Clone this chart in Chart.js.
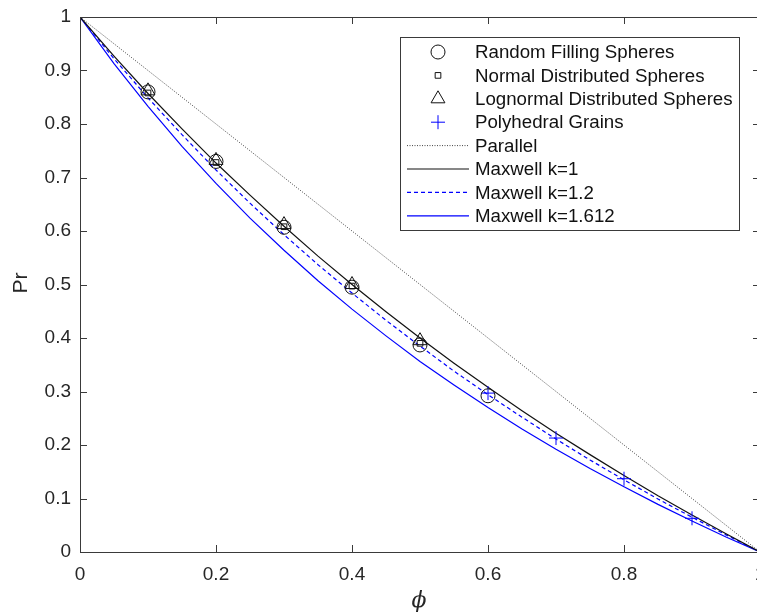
<!DOCTYPE html>
<html>
<head>
<meta charset="utf-8">
<script src="https://cdn.jsdelivr.net/npm/chart.js@4/dist/chart.umd.min.js"></script>
<style>
  html, body { margin: 0; padding: 0; overflow: hidden; background: #fff; }
  canvas { display: block; }
</style>
</head>
<body>
<canvas id="myChart" width="770" height="613"></canvas>
<script>
// Values
const phi = [0, 0.05, 0.1, 0.15, 0.2, 0.25, 0.3, 0.35, 0.4, 0.45, 0.5,
             0.55, 0.6, 0.65, 0.7, 0.75, 0.8, 0.85, 0.9, 0.95, 1];
const maxwell1 = [1, 0.927, 0.857, 0.791, 0.727, 0.667, 0.609, 0.553, 0.5, 0.449, 0.4,
                  0.353, 0.308, 0.264, 0.222, 0.182, 0.143, 0.105, 0.069, 0.034, 0];
const maxwell12 = [1, 0.922, 0.849, 0.78, 0.714, 0.652, 0.593, 0.537, 0.484, 0.433, 0.385,
                   0.338, 0.294, 0.252, 0.211, 0.172, 0.135, 0.099, 0.065, 0.032, 0];
const maxwell1612 = [1, 0.913, 0.833, 0.758, 0.689, 0.624, 0.564, 0.507, 0.454, 0.404, 0.356,
                     0.312, 0.27, 0.23, 0.192, 0.156, 0.122, 0.089, 0.058, 0.028, 0];
const parallelX = [0, 1];
const parallelY = [1, 0];

const randomX = [0.1, 0.2, 0.3, 0.4, 0.5, 0.6];
const randomY = [0.86, 0.73, 0.607, 0.495, 0.387, 0.292];
const normalX = [0.1, 0.2, 0.3, 0.4, 0.5];
const normalY = [0.858, 0.728, 0.608, 0.497, 0.39];
const lognormX = [0.1, 0.2, 0.3, 0.4, 0.5];
const lognormY = [0.862, 0.732, 0.612, 0.5, 0.395];
const polyX = [0.6, 0.7, 0.8, 0.9];
const polyY = [0.297, 0.213, 0.137, 0.063];

const xTicks = [0, 0.2, 0.4, 0.6, 0.8, 1];
const yTicks = [0, 0.1, 0.2, 0.3, 0.4, 0.5, 0.6, 0.7, 0.8, 0.9, 1];

const AXIS = '#3a3a3a';
const FONT = '"Liberation Sans", Arial, Helvetica, sans-serif';
const CLEAR = 'rgba(0,0,0,0)';

const pts = (xs, ys) => xs.map((x, i) => ({ x: x, y: ys[i] }));

const markerSet = (label, xs, ys, style, color, r) => ({
  label: label, data: pts(xs, ys), showLine: false,
  pointStyle: style, pointRadius: r, pointHoverRadius: r,
  pointBorderColor: color, pointBackgroundColor: CLEAR, pointBorderWidth: 1,
  legendKind: 'marker'
});
const lineSet = (label, xs, ys, color, dash, width) => ({
  label: label, data: pts(xs, ys), showLine: true, pointRadius: 0,
  borderColor: color, borderWidth: width, borderDash: dash, fill: false,
  legendKind: 'line'
});

const datasets = [
  markerSet('Random Filling Spheres', randomX, randomY, 'circle', '#111', 7),
  markerSet('Normal Distributed Spheres', normalX, normalY, 'rect', '#111', 4),
  markerSet('Lognormal Distributed Spheres', lognormX, lognormY, 'triangle', '#111', 8),
  markerSet('Polyhedral Grains', polyX, polyY, 'cross', '#0000ff', 7),
  lineSet('Parallel', parallelX, parallelY, '#444', [1, 1.5], 1),
  lineSet('Maxwell k=1', phi, maxwell1, '#111', [], 1.2),
  lineSet('Maxwell k=1.2', phi, maxwell12, '#0000ff', [4, 3], 1.2),
  lineSet('Maxwell k=1.612', phi, maxwell1612, '#0000ff', [], 1.2)
];

// Рамка, вътрешни чертички, заглавия на осите и легенда
const frame = {
  id: 'frame',
  afterDraw(chart) {
    const ctx = chart.ctx;
    const a = chart.chartArea;
    const xs = chart.scales.x, ys = chart.scales.y;
    ctx.save();
    ctx.strokeStyle = AXIS;
    ctx.lineWidth = 1;
    ctx.strokeRect(a.left + 0.5, a.top + 0.5, a.right - a.left, a.bottom - a.top);
    ctx.beginPath();
    xTicks.forEach(v => {
      const p = Math.round(xs.getPixelForValue(v)) + 0.5;
      ctx.moveTo(p, a.bottom); ctx.lineTo(p, a.bottom - 7);
      ctx.moveTo(p, a.top); ctx.lineTo(p, a.top + 7);
    });
    yTicks.forEach(v => {
      const p = Math.round(ys.getPixelForValue(v)) + 0.5;
      ctx.moveTo(a.left, p); ctx.lineTo(a.left + 7, p);
      ctx.moveTo(a.right, p); ctx.lineTo(a.right - 7, p);
    });
    ctx.stroke();

    // axis titles
    ctx.fillStyle = '#262626';
    ctx.textAlign = 'center';
    ctx.textBaseline = 'middle';
    ctx.font = 'italic 22px "DejaVu Serif", "Liberation Serif", serif';
    ctx.fillText('\u03d5', 419, 601);
    ctx.save();
    ctx.translate(21, 283);
    ctx.rotate(-Math.PI / 2);
    ctx.font = '21px ' + FONT;
    ctx.fillText('Pr', 0, 0);
    ctx.restore();

    // legend
    const lx = 400, ly = 37, lw = 339, lh = 193, row = 23.4;
    ctx.fillStyle = '#fff';
    ctx.fillRect(lx, ly, lw, lh);
    ctx.strokeStyle = AXIS;
    ctx.strokeRect(lx + 0.5, ly + 0.5, lw, lh);
    chart.data.datasets.forEach((ds, i) => {
      const cy = 52 + i * row;
      if (ds.legendKind === 'marker') {
        ctx.fillStyle = CLEAR;
        ctx.strokeStyle = ds.pointBorderColor;
        ctx.lineWidth = 1;
        Chart.helpers.drawPoint(ctx, {
          pointStyle: ds.pointStyle, radius: ds.pointRadius, rotation: 0,
          borderWidth: 1
        }, 438, cy);
      } else {
        ctx.strokeStyle = ds.borderColor;
        ctx.lineWidth = ds.borderWidth;
        ctx.setLineDash(ds.borderDash);
        ctx.beginPath();
        ctx.moveTo(407, cy); ctx.lineTo(469, cy);
        ctx.stroke();
        ctx.setLineDash([]);
      }
      ctx.fillStyle = '#111';
      ctx.textAlign = 'left';
      ctx.font = '18.7px ' + FONT;
      ctx.fillText(ds.label, 475, cy + 1);
    });
    ctx.restore();
  }
};

new Chart(document.getElementById('myChart'), {
  type: 'scatter',
  data: { datasets: datasets },
  options: {
    animation: false,
    responsive: false,
    layout: { padding: { left: 0, top: 17, right: 10, bottom: 0 } },
    plugins: { legend: { display: false }, tooltip: { enabled: false } },
    scales: {
      x: {
        type: 'linear', min: 0, max: 1,
        afterFit: s => { s.height = 61; s.paddingLeft = 0; s.paddingRight = 0; },
        afterBuildTicks: s => { s.ticks = xTicks.map(v => ({ value: v })); },
        grid: { display: false, drawTicks: false },
        border: { display: false },
        ticks: { color: '#262626', padding: 11, font: { family: FONT, size: 19 },
                 callback: v => String(v) }
      },
      y: {
        type: 'linear', min: 0, max: 1,
        afterFit: s => { s.width = 80; s.paddingTop = 0; s.paddingBottom = 0; },
        afterBuildTicks: s => { s.ticks = yTicks.map(v => ({ value: v })); },
        grid: { display: false, drawTicks: false },
        border: { display: false },
        ticks: { color: '#262626', padding: 9, font: { family: FONT, size: 19 },
                 callback: v => String(v) }
      }
    }
  },
  plugins: [frame]
});
</script>
</body>
</html>
